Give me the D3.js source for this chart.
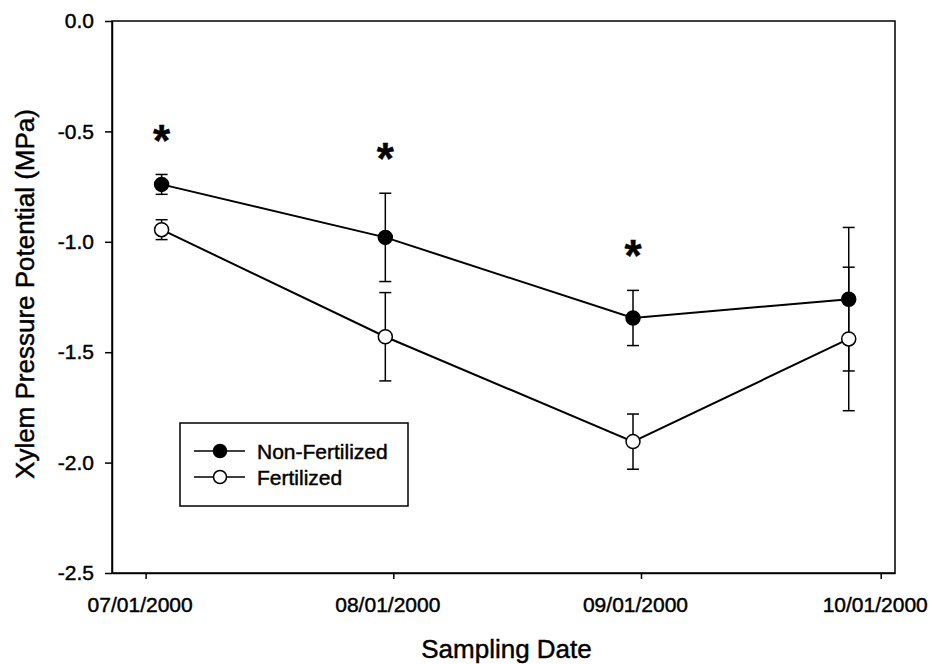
<!DOCTYPE html>
<html>
<head>
<meta charset="utf-8">
<script src="https://cdn.jsdelivr.net/npm/d3@7"></script>
<style>
	body { margin: 0; background: #fff; }
	svg { display: block; font-family: "Liberation Sans", Arial, sans-serif; }
	svg text { stroke: #000; stroke-width: 0.45px; }
	.axis path, .axis line { stroke: #000; stroke-width: 1.5; }
	.axis text { font-size: 21px; fill: #000; }
</style>
</head>
<body>
<div id="chart"></div>
<script>

// sampling dates and measured values
var sampleDates = ["2000-07-03", "2000-07-31", "2000-08-31", "2000-09-27"];
var nonFert = [-0.74, -0.98, -1.345, -1.26];
var nonFertErr = [0.045, 0.2, 0.125, 0.325];
var fert = [-0.945, -1.43, -1.905, -1.44];
var fertErr = [0.045, 0.2, 0.125, 0.325];
var significant = [true, true, true, false];

var xTickDates = ["2000-07-01", "2000-08-01", "2000-09-01", "2000-10-01"];
var yTicks = [0, -0.5, -1.0, -1.5, -2.0, -2.5];
var seriesNames = ["Non-Fertilized", "Fertilized"];

var parseDate = d3.timeParse("%Y-%m-%d");
var formatDate = d3.timeFormat("%m/%d/%Y");

var margin = { top: 21, right: 37, bottom: 91, left: 112 };
var width = 932 - margin.left - margin.right,
	height = 664 - margin.top - margin.bottom;

var svg = d3.select("#chart").append("svg")
	.attr("width", 932)
	.attr("height", 664)
	.append("g")
	.attr("transform", "translate(" + margin.left + "," + margin.top + ")");

// scales
var x = d3.scaleTime()
	.domain([new Date(2000, 5, 26, 19), new Date(2000, 9, 2, 19)])
	.range([0, width]);

var y = d3.scaleLinear()
	.domain([-2.5, 0])
	.range([height, 0]);

var xAxis = d3.axisBottom(x)
	.tickValues(xTickDates.map(parseDate))
	.tickFormat(formatDate)
	.tickSize(6)
	.tickSizeOuter(0)
	.tickPadding(18);

var yAxis = d3.axisLeft(y)
	.tickValues(yTicks)
	.tickFormat(function(d) { return d.toFixed(1); })
	.tickSize(7)
	.tickSizeOuter(0)
	.tickPadding(11);

// frame
svg.append("rect")
	.attr("width", width)
	.attr("height", height)
	.attr("fill", "none")
	.attr("stroke", "#000")
	.attr("stroke-width", 1.5);

svg.append("g")
	.attr("class", "x-axis axis")
	.attr("transform", "translate(0," + height + ")")
	.call(xAxis)
	.selectAll("text")
	.attr("dx", -6);

svg.append("g")
	.attr("class", "y-axis axis")
	.call(yAxis);

// data rows
var series = [
	{ name: seriesNames[0], values: nonFert, err: nonFertErr, fill: "#000" },
	{ name: seriesNames[1], values: fert, err: fertErr, fill: "#fff" }
];

var rows = series.map(function(s) {
	return sampleDates.map(function(d, i) {
		return { date: parseDate(d), value: s.values[i], err: s.err[i] };
	});
});

var line = d3.line()
	.x(function(d) { return x(d.date); })
	.y(function(d) { return y(d.value); });

var capW = 6;

series.forEach(function(s, k) {
	var g = svg.append("g").attr("class", "series");

	var eb = g.selectAll(".err")
		.data(rows[k])
		.enter()
		.append("g")
		.attr("class", "err")
		.attr("stroke", "#000")
		.attr("stroke-width", 1.5);

	eb.append("line")
		.attr("x1", function(d) { return x(d.date); })
		.attr("x2", function(d) { return x(d.date); })
		.attr("y1", function(d) { return y(d.value + d.err); })
		.attr("y2", function(d) { return y(d.value - d.err); });

	eb.append("line")
		.attr("x1", function(d) { return x(d.date) - capW; })
		.attr("x2", function(d) { return x(d.date) + capW; })
		.attr("y1", function(d) { return y(d.value + d.err); })
		.attr("y2", function(d) { return y(d.value + d.err); });

	eb.append("line")
		.attr("x1", function(d) { return x(d.date) - capW; })
		.attr("x2", function(d) { return x(d.date) + capW; })
		.attr("y1", function(d) { return y(d.value - d.err); })
		.attr("y2", function(d) { return y(d.value - d.err); });

	g.append("path")
		.datum(rows[k])
		.attr("fill", "none")
		.attr("stroke", "#000")
		.attr("stroke-width", 2)
		.attr("d", line);
});

// markers on top of both lines
series.forEach(function(s, k) {
	svg.selectAll(".dot" + k)
		.data(rows[k])
		.enter()
		.append("circle")
		.attr("class", "dot" + k)
		.attr("cx", function(d) { return x(d.date); })
		.attr("cy", function(d) { return y(d.value); })
		.attr("r", 7)
		.attr("fill", s.fill)
		.attr("stroke", "#000")
		.attr("stroke-width", 1.5);
});

// significance stars above the upper bars
var starSize = 44;
svg.selectAll(".star")
	.data(rows[0].filter(function(d, i) { return significant[i]; }))
	.enter()
	.append("text")
	.attr("class", "star")
	.attr("x", function(d) { return x(d.date); })
	.attr("y", function(d) { return y(d.value + d.err) - 44 + starSize * 0.57; })
	.attr("text-anchor", "middle")
	.attr("font-size", starSize)
	.attr("font-weight", "bold")
	.text("*");

// legend
var legend = svg.append("g")
	.attr("transform", "translate(" + (180 - margin.left) + "," + (423 - margin.top) + ")");

legend.append("rect")
	.attr("width", 228)
	.attr("height", 83)
	.attr("fill", "#fff")
	.attr("stroke", "#000")
	.attr("stroke-width", 1.5);

var item = legend.selectAll(".item")
	.data(series)
	.enter()
	.append("g")
	.attr("class", "item")
	.attr("transform", function(d, i) { return "translate(0," + (28 + i * 26) + ")"; });

item.append("line")
	.attr("x1", 14)
	.attr("x2", 65)
	.attr("stroke", "#000")
	.attr("stroke-width", 1.5);

item.append("circle")
	.attr("cx", 40)
	.attr("r", 6.5)
	.attr("fill", function(d) { return d.fill; })
	.attr("stroke", "#000")
	.attr("stroke-width", 1.5);

item.append("text")
	.attr("x", 77)
	.attr("dy", "0.36em")
	.attr("font-size", 21)
	.text(function(d) { return d.name; });

// axis labels
svg.append("text")
	.attr("text-anchor", "middle")
	.attr("x", width / 2 + 3)
	.attr("y", height + 85)
	.attr("font-size", 26)
	.text("Sampling Date");

svg.append("text")
	.attr("text-anchor", "middle")
	.attr("transform", "rotate(-90)")
	.attr("x", -height / 2 + 3)
	.attr("y", -78)
	.attr("font-size", 26)
	.text("Xylem Pressure Potential (MPa)");

</script>
</body>
</html>
